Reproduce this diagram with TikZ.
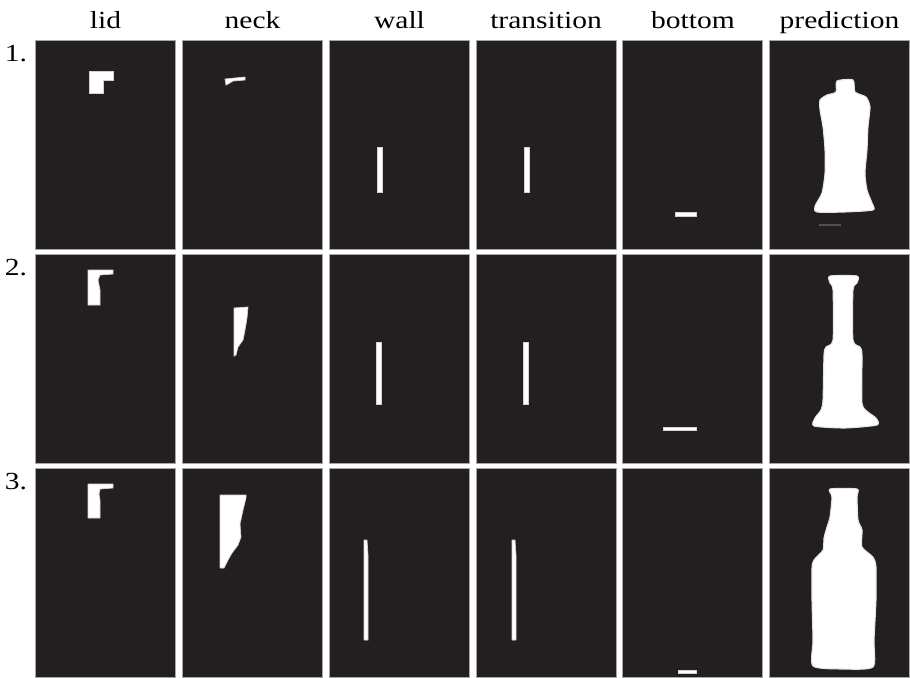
\documentclass[tikz,border=0pt]{standalone}
\usepackage{fontspec}
\setmainfont{Liberation Serif}[FakeStretch=1.2]
\definecolor{panel}{HTML}{231F20}

\begin{document}
\begin{tikzpicture}[x=0.02cm,y=-0.02cm,
  panelbox/.style={fill=panel,draw=gray!70,line width=0.3pt},
  part/.style={fill=white,draw=white!80!panel,line width=0.4pt},
  blob/.style={fill=white,draw=white!88!panel,line width=0.6pt},
  lbl/.style={font=\fontsize{14}{16}\selectfont,anchor=base}]
\useasboundingbox[fill=white] (0,0) rectangle (910,677);

% dark panels, 3 rows x 6 columns
\foreach \c in {0,...,5}
  \foreach \r in {0,1,2}
    \filldraw[panelbox] ({35.5+146.8*\c},{40+214*\r}) rectangle ++(140,209);

\node[lbl] (lid) at (105.5,28) {lid};
\node[lbl] (neck) at (252.5,28) {neck};
\node[lbl] (wall) at (399.5,28) {wall};
\node[lbl] (transition) at (546,28) {transition};
\node[lbl] (bottom) at (693,28) {bottom};
\node[lbl] (prediction) at (839.5,28) {prediction};

\node[lbl] (row1) at (16,61) {1.};
\node[lbl] (row2) at (16,275) {2.};
\node[lbl] (row3) at (16,489) {3.};

% row 1
\fill[part] (89,71) -- (113,71) -- (113,80) -- (103,80) -- (103,93) -- (89,93) -- cycle;
\fill[part] (225,79) -- (245,77) -- (245,80) -- (233,81) -- (228,84) -- (226,85) -- cycle;
\fill[part] (377,147) rectangle (382,192);
\fill[part] (524,147) rectangle (529,192);
\fill[part] (675,212) rectangle (696,216);
\filldraw[blob] plot[smooth cycle,tension=0.4] coordinates {(837,81) (853,80) (855,92) (866,97)
  (870,107) (868,127) (867,150) (865,173) (867,190) (872,203) (873,210) (845,212) (817,212)
  (815,206) (822,193) (825,173) (825,150) (823,127) (820,110) (820,100) (827,95) (836,92)};
\fill[white!22!panel] (819,223.5) rectangle (841,225.5);

% row 2
\fill[part] (88,270) -- (113,270) -- (113,274) -- (100,275) -- (98,280) -- (100,290) -- (100,305) -- (88,305) -- cycle;
\fill[part] (234,308) -- (248,307) -- (247,318) -- (245,330) -- (243,340) -- (238,347) -- (236,355) -- (234,356) -- cycle;
\fill[part] (376,342) rectangle (381,404);
\fill[part] (523,342) rectangle (528,404);
\fill[part] (663,427) rectangle (696,430);
\filldraw[blob] plot[smooth cycle,tension=0.4] coordinates {(830,276) (857,276) (857,283) (853,290)
  (853,340) (860,347) (862,355) (862,403) (868,412) (876,418) (877,425) (845,428) (814,426)
  (815,418) (821,410) (823,400) (824,355) (826,347) (833,340) (833,290) (830,283)};

% row 3
\fill[part] (88,484) -- (113,484) -- (113,488) -- (100,489) -- (99,494) -- (100,500) -- (100,518) -- (88,518) -- cycle;
\fill[part] (220,495) -- (246,495) -- (246,498) -- (243,510) -- (240,524) -- (241,537) -- (238,545)
  -- (232,553) -- (228,560) -- (224,568) -- (220,568) -- cycle;
\fill[part] (364,540) -- (367,540) -- (368,555) -- (368,640) -- (364,640) -- cycle;
\fill[part] (512,540) -- (515,540) -- (516,555) -- (516,640) -- (512,640) -- cycle;
\fill[part] (678,670) rectangle (696,673);
\filldraw[blob] plot[smooth cycle,tension=0.4] coordinates {(830,489) (857,489) (857,497) (858,520)
  (862,530) (862,547) (873,557) (876,567) (876,600) (874,640) (873,667) (843,669) (813,666)
  (813,640) (812,600) (812,568) (814,560) (823,550) (824,538) (827,527) (830,517) (832,497)};

\end{tikzpicture}
\end{document}
